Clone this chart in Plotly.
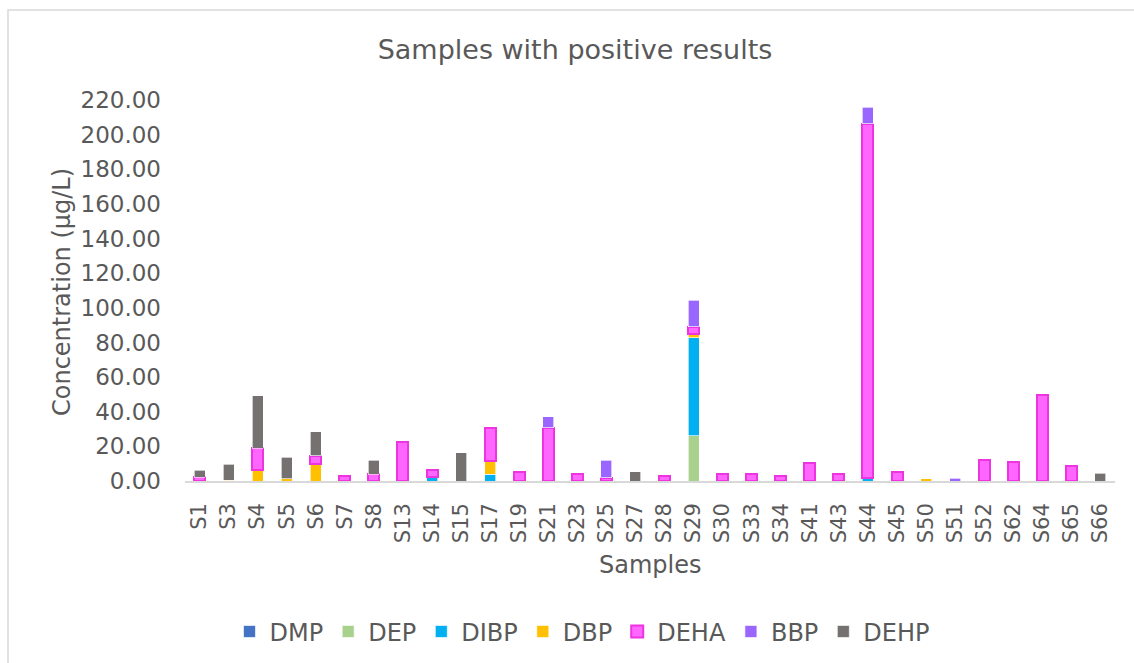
import plotly.graph_objects as go

samples = ["S1","S3","S4","S5","S6","S7","S8","S13","S14","S15","S17","S19","S21","S23","S25","S27",
           "S28","S29","S30","S33","S34","S41","S43","S44","S45","S50","S51","S52","S62","S64","S65","S66"]

DMP  = [0]*32
DEP  = [0,0,0,0,0,0,0,0,0,0,0,0,0,0,0,0,0,26.0,0,0,0,0,0,0,0,0,0,0,0,0,0,0]
DIBP = [0,0,0,0,0,0,0,0,2.2,0,4.0,0,0,0,0,0,0,56.7,0,0,0,0,0,1.5,0,0,0,0,0,0,0,0]
DBP  = [0,0.5,6.3,1.2,9.6,0,0,0,0,0,7.7,0,0,0,0,0,0,1.9,0,0,0,0,0,0,0,1.2,0,0,0,0,0,0]
DEHA = [2.3,0,12.5,0,5.0,2.8,3.8,22.5,4.0,0,19.0,5.2,30.8,4.0,1.9,0,2.9,4.4,3.8,3.8,2.7,10.2,3.8,204.8,5.2,0,0,12.1,11.0,49.6,8.7,0]
BBP  = [0,0,0,0,0,0,0,0,0,0,0,0,6.3,0,10.2,0,0,15.4,0,0,0,0,0,9.6,0,0,1.7,0,0,0,0,0]
DEHP = [4.0,9.3,30.4,12.6,13.8,0,8.3,0,0,16.3,0,0,0,0,0,5.4,0,0,0,0,0,0,0,0,0,0,0,0,0,0,0,4.6]

y_ticks = [0,20,40,60,80,100,120,140,160,180,200,220]

series = [
    ("DMP", DMP, "#4472C4", "rgba(255,255,255,0.8)", 0.8),
    ("DEP", DEP, "#A9D18E", "rgba(255,255,255,0.8)", 0.8),
    ("DIBP", DIBP, "#00B0F0", "rgba(255,255,255,0.8)", 0.8),
    ("DBP", DBP, "#FFC000", "rgba(255,255,255,0.8)", 0.8),
    ("DEHA", DEHA, "#FF66FF", "#EE33E0", 2),
    ("BBP", BBP, "#9966FF", "rgba(255,255,255,0.8)", 0.8),
    ("DEHP", DEHP, "#767171", "rgba(255,255,255,0.8)", 0.8),
]

font = "DejaVu Sans, sans-serif"
grey = "#595959"

fig = go.Figure()
for name, vals, col, lc, lw in series:
    fig.add_trace(go.Bar(name=name, x=samples, y=[v if v else None for v in vals],
                         marker=dict(color=col, line=dict(color=lc, width=lw))))

fig.update_layout(
    barmode="stack",
    bargap=0.62,
    width=1134, height=663,
    margin=dict(l=185, r=19, t=100, b=182, autoexpand=False),
    paper_bgcolor="white", plot_bgcolor="white",
    font=dict(family=font, size=23, color=grey),
    title=dict(text="Samples with positive results", xref="container", x=575/1134, xanchor="center",
               y=1 - 50/663, yanchor="middle", font=dict(size=27, color=grey)),
    legend=dict(orientation="h", x=(582-185)/930, xanchor="center",
                y=-0.396, yanchor="middle",
                font=dict(size=24, color=grey), traceorder="normal",
                itemwidth=30, tracegroupgap=0),
    showlegend=True,
)
fig.update_xaxes(type="category", tickangle=-90, showline=True, linecolor="#D9D9D9",
                 linewidth=1.5, showgrid=False, ticks="", ticklabelstandoff=12,
                 tickfont=dict(size=21, color=grey), range=[-0.5, 31.5])
fig.update_yaxes(range=[0, 220], tickvals=y_ticks, ticktext=[f"{v:.2f}" for v in y_ticks],
                 showgrid=False, zeroline=False, showline=False, ticks="",
                 ticklabelstandoff=23, tickfont=dict(size=23, color=grey))

fig.add_annotation(text="Samples", xref="paper", yref="paper", x=0.5, y=(481-565)/381,
                   showarrow=False, font=dict(size=24, color=grey), yanchor="middle")
fig.add_annotation(text="Concentration (µg/L)", xref="paper", yref="paper",
                   x=(62-185)/930, y=(481-292)/381, textangle=-90, showarrow=False,
                   font=dict(size=24, color=grey), xanchor="center", yanchor="middle")

fig.add_shape(type="rect", xref="paper", yref="paper",
              x0=(8-185)/930, x1=(1145-185)/930, y0=(481-680)/381, y1=(481-10)/381,
              line=dict(color="#D9D9D9", width=1.5), fillcolor="rgba(0,0,0,0)", layer="below")

fig.write_html("out.html")
